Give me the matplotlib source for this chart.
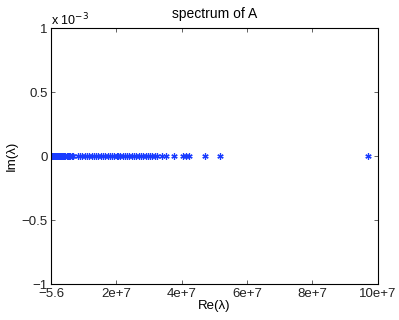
import matplotlib
matplotlib.use("Agg")
import matplotlib.pyplot as plt

re_dense = [0.0, 0.1, 0.2, 0.3, 0.5, 0.7, 0.9, 1.1, 1.3, 1.5, 1.8, 2.0, 2.3,
            2.6, 2.9, 3.2, 3.5, 3.8, 4.1, 4.4, 4.8, 5.1, 5.5, 5.9, 6.3, 6.7]
re_mid = [8.2, 8.9, 9.6, 10.3, 11.0, 11.7, 12.4, 13.1, 13.8, 14.5, 15.2,
          15.9, 16.6, 17.3, 18.0, 18.7, 19.4, 20.1, 20.6, 21.2, 21.9, 22.6,
          23.3, 24.0, 24.7, 25.4, 26.1, 26.8, 27.5, 28.2, 28.9, 29.6, 30.3,
          31.0, 31.7]
re_tail = [32.3, 33.8, 35.3, 37.6, 40.4, 41.2, 42.2, 47.2, 51.7, 97.1]

re_vals = [v * 1e6 for v in re_dense + re_mid + re_tail]
im_vals = [0.0] * len(re_vals)   # in units of 1e-3

xticks = [-5.6, 2e7, 4e7, 6e7, 8e7, 10e7]
xticklabels = ["\u22125.6", "2e+7", "4e+7", "6e+7", "8e+7", "10e+7"]
yticks = [-1, -0.5, 0, 0.5, 1]
yticklabels = ["\u22121", "\u22120.5", "0", "0.5", "1"]

plt.rcParams["font.family"] = ["Liberation Sans", "DejaVu Sans"]
plt.rcParams["font.size"] = 9.5

fig = plt.figure(figsize=(3.99, 3.2), dpi=100)
ax = fig.add_axes([0.128, 0.112, 0.819, 0.800])

# MATLAB-style asterisk markers
ax.plot(re_vals, im_vals, linestyle="none", marker=(6, 2, 0),
        color="#1a3cff", markersize=4.5, markeredgewidth=0.9)

ax.set_xlim(-5.6, 1e8)
ax.set_ylim(-1, 1)
ax.set_xticks(xticks)
ax.set_xticklabels(xticklabels)
ax.set_yticks(yticks)
ax.set_yticklabels(yticklabels)
ax.tick_params(direction="in", top=True, right=True, length=3, width=0.5,
               pad=2.5, colors="#222222")
for s in ax.spines.values():
    s.set_linewidth(0.8)

ax.text(0.0, 1.0, "x 10$^{-3}$", transform=ax.transAxes, ha="left",
        va="bottom", fontsize=9)
ax.set_title("spectrum of A", fontsize=10, pad=7)
ax.set_xlabel("Re(\u03bb)", labelpad=0)
ax.set_ylabel("Im(\u03bb)", labelpad=3)

fig.savefig("out.png", dpi=100)
